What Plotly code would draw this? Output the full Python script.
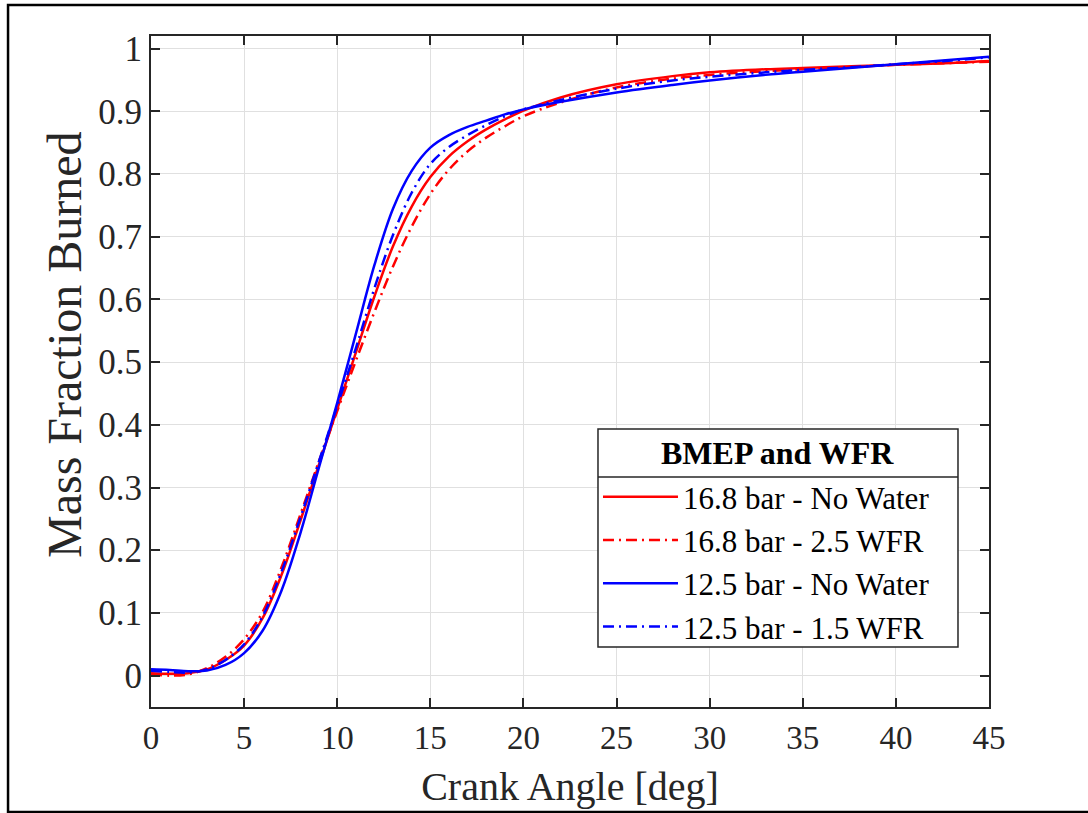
import plotly.graph_objects as go

# Crank angle [deg]
crank_angle = [0, 1, 2, 3, 4, 5, 6, 7, 8, 9, 10, 11, 12, 13, 14, 15, 16, 17, 18, 19, 20,
               22, 25, 28, 30, 33, 35, 38, 40, 43, 45]

mfb_168_no_water = [0.004, 0.003, 0.004, 0.010, 0.025, 0.048, 0.092, 0.160, 0.245, 0.335, 0.425,
                    0.515, 0.605, 0.685, 0.748, 0.795, 0.828, 0.852, 0.871, 0.887, 0.901,
                    0.922, 0.943, 0.956, 0.962, 0.967, 0.969, 0.972, 0.974, 0.977, 0.980]
mfb_168_25_wfr = [0.002, 0.000, 0.002, 0.012, 0.030, 0.058, 0.102, 0.172, 0.255, 0.340, 0.422,
                  0.502, 0.580, 0.653, 0.716, 0.768, 0.807, 0.836, 0.858, 0.876, 0.892,
                  0.914, 0.938, 0.952, 0.958, 0.964, 0.967, 0.971, 0.974, 0.977, 0.979]
mfb_125_no_water = [0.010, 0.009, 0.007, 0.008, 0.017, 0.036, 0.072, 0.135, 0.225, 0.330, 0.435,
                    0.545, 0.655, 0.745, 0.805, 0.842, 0.862, 0.875, 0.885, 0.895, 0.903,
                    0.915, 0.930, 0.942, 0.949, 0.958, 0.963, 0.970, 0.975, 0.982, 0.987]
mfb_125_15_wfr = [0.008, 0.006, 0.005, 0.010, 0.025, 0.050, 0.095, 0.165, 0.250, 0.340, 0.430,
                  0.522, 0.618, 0.703, 0.770, 0.816, 0.843, 0.862, 0.878, 0.892, 0.903,
                  0.918, 0.936, 0.949, 0.955, 0.962, 0.966, 0.971, 0.975, 0.981, 0.986]

series_names = ["16.8 bar - No Water", "16.8 bar - 2.5 WFR",
                "12.5 bar - No Water", "12.5 bar - 1.5 WFR"]
series_values = [mfb_168_no_water, mfb_168_25_wfr, mfb_125_no_water, mfb_125_15_wfr]
series_colors = ["#FF0000", "#FF0000", "#0000FF", "#0000FF"]
series_dash = ["solid", "11px,5px,2px,5px", "solid", "11px,5px,2px,5px"]

y_tick_vals = [0, 0.1, 0.2, 0.3, 0.4, 0.5, 0.6, 0.7, 0.8, 0.9, 1.0]
y_tick_text = ["0", "0.1", "0.2", "0.3", "0.4", "0.5", "0.6", "0.7", "0.8", "0.9", "1"]
x_tick_vals = [0, 5, 10, 15, 20, 25, 30, 35, 40, 45]

FONT = "Liberation Serif, Times New Roman, serif"
AX = "#262626"

fig = go.Figure()
for name, vals, col, dash in zip(series_names, series_values, series_colors, series_dash):
    fig.add_trace(go.Scatter(x=crank_angle, y=vals, mode="lines", name=name,
                             line=dict(color=col, width=2.5, dash=dash, shape="spline", smoothing=1.0)))

axis_common = dict(showline=True, linecolor=AX, linewidth=2, mirror="ticks",
                   ticks="inside", ticklen=9, tickwidth=2, tickcolor=AX,
                   showgrid=True, gridcolor="#E0E0E0", gridwidth=1, zeroline=False)

fig.update_xaxes(range=[0, 45], tickvals=x_tick_vals, **axis_common,
                 tickfont=dict(family=FONT, size=33, color=AX),
                 title=dict(text="Crank Angle [deg]", font=dict(family=FONT, size=40, color=AX), standoff=17))
fig.update_yaxes(range=[-0.05, 1.02], tickvals=y_tick_vals, ticktext=y_tick_text, **axis_common,
                 tickfont=dict(family=FONT, size=35, color=AX))

# legend frame geometry (paper coordinates)
lx0, lx1, ly0, ly1, lsep = 0.5334, 0.963, 0.0894, 0.4143, 0.3428

fig.update_layout(
    width=1088, height=813,
    margin=dict(l=151, r=99, t=36, b=106),
    paper_bgcolor="white", plot_bgcolor="white",
    font=dict(family=FONT, color="black"),
    showlegend=True,
    legend=dict(x=lx0, xanchor="left", y=0.3532, yanchor="top",
                bgcolor="rgba(0,0,0,0)", borderwidth=0,
                font=dict(family=FONT, size=31, color="black"),
                itemwidth=75, tracegroupgap=0),
    shapes=[
        dict(type="rect", xref="paper", yref="paper", x0=-0.1706, x1=1.25, y0=-0.1565, y1=1.0462,
             line=dict(color="black", width=2.5), fillcolor="rgba(0,0,0,0)", layer="below"),
        dict(type="rect", xref="paper", yref="paper", x0=lx0, x1=lx1, y0=ly0, y1=ly1,
             line=dict(color=AX, width=1.5), fillcolor="white", layer="above"),
        dict(type="line", xref="paper", yref="paper", x0=lx0, x1=lx1, y0=lsep, y1=lsep,
             line=dict(color=AX, width=1.5), layer="above"),
    ],
    annotations=[
        dict(text="<b>BMEP and WFR</b>", xref="paper", yref="paper", x=(lx0 + lx1) / 2, y=0.3785,
             xanchor="center", yanchor="middle", showarrow=False,
             font=dict(family=FONT, size=32, color="black")),
        dict(text="Mass Fraction Burned", xref="paper", yref="paper", x=-0.1026, y=0.5395,
             xanchor="center", yanchor="middle", textangle=-90, showarrow=False,
             font=dict(family=FONT, size=48, color=AX)),
    ],
)

fig.write_html("out.html", post_script="document.body.style.margin='0';",
               config={"displayModeBar": False})
